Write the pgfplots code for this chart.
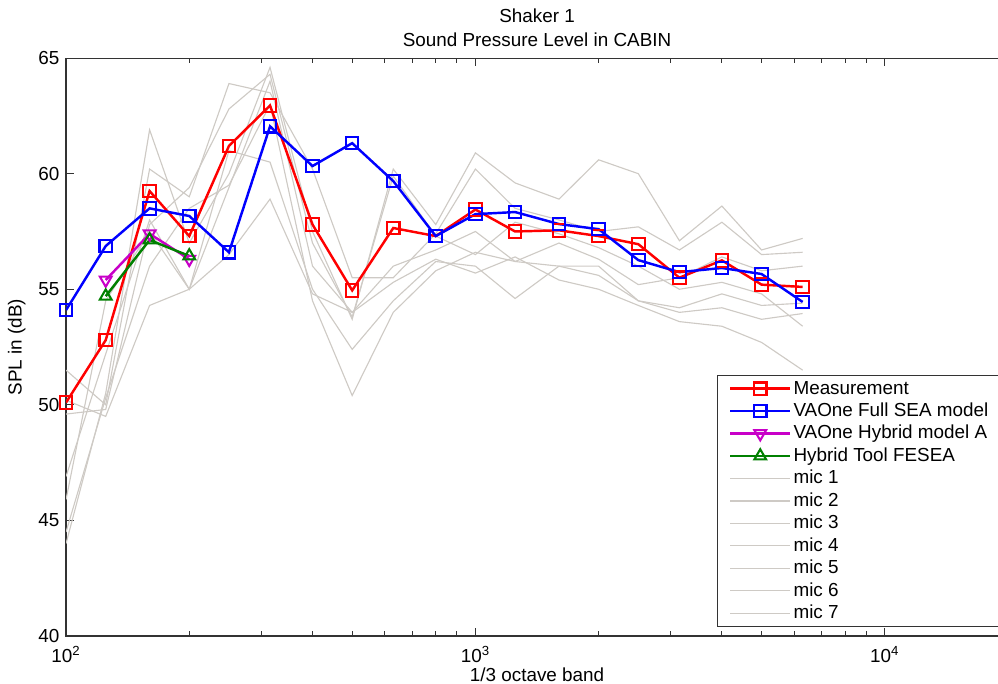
\documentclass[border=0pt]{standalone}
\usepackage{pgfplots}
\pgfplotsset{compat=1.18}
\usepackage{fontspec}
\setmainfont{Liberation Sans}
\definecolor{micgray}{RGB}{206,202,197}
\definecolor{mred}{RGB}{255,0,0}
\definecolor{mblue}{RGB}{0,0,255}
\definecolor{mmag}{RGB}{200,0,200}
\definecolor{mgreen}{RGB}{0,128,0}
\begin{document}
\begin{tikzpicture}
\useasboundingbox (-35.0pt,-25.4pt) rectangle (494.0pt,337.1pt);
\clip (-35.0pt,-25.4pt) rectangle (494.0pt,337.1pt);
\begin{axis}[
  at={(0,0)}, anchor=south west,
  width=499.3pt, height=306.3pt, scale only axis,
  xmode=log, xmin=100, xmax=20000, ymin=40, ymax=65,
  ytick={40,45,...,65},
  xtick={100,1000,10000},
  xticklabels={10\textsuperscript{2},10\textsuperscript{3},10\textsuperscript{4}},
  minor xtick={200,300,400,500,600,700,800,900,2000,3000,4000,5000,6000,7000,8000,9000},
  /pgf/number format/assume math mode=true,
  tick label style={font=\fontsize{10}{12}\selectfont},
  x tick label style={yshift=-2.0pt},
  label style={font=\fontsize{10}{12}\selectfont},
  xlabel style={at={(axis description cs:0.5,0)}, anchor=center, yshift=-20.3pt},
  title={Shaker 1\\Sound Pressure Level in CABIN},
  title style={align=center, font=\fontsize{10}{12.7}\selectfont, yshift=-3.6pt},
  xlabel={1/3 octave band}, ylabel={SPL in (dB)},
  tick align=inside,
  axis line style={black!80, line width=0.6pt},
  every tick/.style={black!80, line width=0.5pt},
  major tick length=4.2pt, minor tick length=2.4pt,
  legend cell align=left,
  legend style={at={(0.691,0.4516)}, anchor=north west, draw=black!80, line width=0.6pt,
    font=\fontsize{10}{12}\selectfont, row sep=0pt,
    nodes={inner sep=1pt, text height=7.8pt, text depth=2.1pt},
    inner xsep=6pt, inner ysep=1pt},
  legend image code/.code={\draw[mark repeat=2,mark phase=2] plot coordinates {(0pt,0pt) (16pt,0pt) (32pt,0pt)};},
]
% microphones
\addplot[micgray, line width=0.6pt, forget plot] coordinates {(100,44.0)(125,50.5)(160,61.9)(200,57.0)(250,60.0)(315,64.6)(400,57.5)(500,53.7)(630,60.2)(800,57.8)(1000,60.9)(1250,59.6)(1600,58.9)(2000,60.6)(2500,60.0)(3150,57.1)(4000,58.6)(5000,56.7)(6300,57.2)};
\addplot[micgray, line width=0.6pt, forget plot] coordinates {(100,51.5)(125,50.0)(160,60.2)(200,59.0)(250,63.9)(315,63.5)(400,60.2)(500,55.5)(630,55.5)(800,57.4)(1000,60.2)(1250,58.5)(1600,58.0)(2000,57.5)(2500,57.7)(3150,56.7)(4000,57.9)(5000,56.5)(6300,56.6)};
\addplot[micgray, line width=0.6pt, forget plot] coordinates {(100,49.6)(125,49.8)(160,57.8)(200,59.4)(250,62.8)(315,64.3)(400,57.0)(500,53.8)(630,59.9)(800,57.3)(1000,56.5)(1250,57.9)(1600,57.4)(2000,56.8)(2500,56.0)(3150,55.0)(4000,55.3)(5000,54.8)(6300,53.4)};
\addplot[micgray, line width=0.6pt, forget plot] coordinates {(100,46.9)(125,52.2)(160,58.0)(200,55.0)(250,59.4)(315,64.0)(400,56.0)(500,54.0)(630,56.0)(800,56.7)(1000,57.5)(1250,56.2)(1600,57.0)(2000,56.3)(2500,55.2)(3150,55.5)(4000,56.4)(5000,55.8)(6300,56.0)};
\addplot[micgray, line width=0.6pt, forget plot] coordinates {(100,45.9)(125,54.5)(160,57.5)(200,55.0)(250,61.0)(315,60.5)(400,55.0)(500,52.4)(630,54.5)(800,56.2)(1000,56.0)(1250,54.6)(1600,56.0)(2000,56.0)(2500,54.5)(3150,54.2)(4000,54.8)(5000,54.3)(6300,54.4)};
\addplot[micgray, line width=0.6pt, forget plot] coordinates {(100,44.5)(125,50.3)(160,56.0)(200,58.5)(250,59.5)(315,63.0)(400,54.5)(500,50.4)(630,54.0)(800,55.8)(1000,56.6)(1250,56.2)(1600,56.0)(2000,55.6)(2500,54.5)(3150,54.0)(4000,54.2)(5000,53.7)(6300,53.95)};
\addplot[micgray, line width=0.6pt, forget plot] coordinates {(100,50.2)(125,49.5)(160,54.3)(200,55.0)(250,56.5)(315,58.9)(400,54.8)(500,54.0)(630,55.3)(800,56.3)(1000,55.7)(1250,56.4)(1600,55.4)(2000,55.0)(2500,54.3)(3150,53.6)(4000,53.4)(5000,52.7)(6300,51.5)};
% main series
\addplot[mred, line width=1.3pt, mark=square, mark size=3.3pt, mark options={solid, line width=1.1pt}] coordinates {(100,50.1)(125,52.8)(160,59.25)(200,57.3)(250,61.2)(315,62.95)(400,57.8)(500,54.95)(630,57.65)(800,57.3)(1000,58.45)(1250,57.5)(1600,57.55)(2000,57.3)(2500,56.95)(3150,55.5)(4000,56.25)(5000,55.2)(6300,55.1)};
\addlegendentry{Measurement}
\addplot[mblue, line width=1.3pt, mark=square, mark size=3.3pt, mark options={solid, line width=1.1pt}] coordinates {(100,54.1)(125,56.87)(160,58.5)(200,58.17)(250,56.6)(315,62.05)(400,60.33)(500,61.32)(630,59.68)(800,57.3)(1000,58.25)(1250,58.34)(1600,57.82)(2000,57.6)(2500,56.26)(3150,55.74)(4000,55.92)(5000,55.66)(6300,54.45)};
\addlegendentry{VAOne Full SEA model}
\addplot[mmag, line width=1.3pt, mark=triangle, mark size=3.6pt, mark options={solid, rotate=180, line width=1.1pt}] coordinates {(125,55.4)(160,57.4)(200,56.3)};
\addlegendentry{VAOne Hybrid model A}
\addplot[mgreen, line width=1.3pt, mark=triangle, mark size=3.6pt, mark options={solid, line width=1.1pt}] coordinates {(125,54.7)(160,57.13)(200,56.44)};
\addlegendentry{Hybrid Tool FESEA}
\addlegendimage{micgray, line width=0.6pt}\addlegendentry{mic 1}
\addlegendimage{micgray, line width=0.6pt}\addlegendentry{mic 2}
\addlegendimage{micgray, line width=0.6pt}\addlegendentry{mic 3}
\addlegendimage{micgray, line width=0.6pt}\addlegendentry{mic 4}
\addlegendimage{micgray, line width=0.6pt}\addlegendentry{mic 5}
\addlegendimage{micgray, line width=0.6pt}\addlegendentry{mic 6}
\addlegendimage{micgray, line width=0.6pt}\addlegendentry{mic 7}
\end{axis}
\end{tikzpicture}
\end{document}
